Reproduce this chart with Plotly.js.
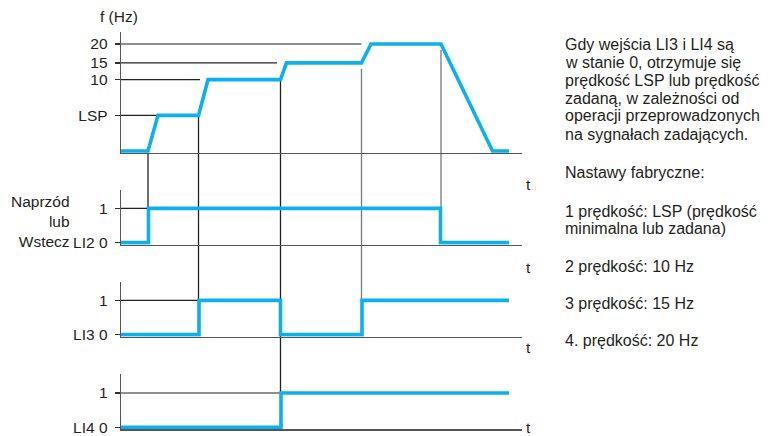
<!DOCTYPE html>
<html>
<head>
<meta charset="utf-8">
<script src="https://cdn.plot.ly/plotly-3.0.1.min.js"></script>
<style>
  html, body { margin: 0; padding: 0; background: #fff; }
  #chart { width: 780px; height: 436px; }
</style>
</head>
<body>
<div id="chart"></div>
<script>
// ---------------- DATA ----------------
// time in arbitrary units, frequency as named levels
const freqTimes  = [0, 2.7, 3.7, 7.75, 8.7, 15.95, 16.55, 24.05, 25.0, 32.0, 37.15, 38.8];
const freqLevels = ['0', '0', 'LSP', 'LSP', '10', '10', '15', '15', '20', '20', '0', '0'];
const freqTickLabels = ['20', '15', '10', 'LSP'];

const li2Times  = [0, 2.75, 2.75, 31.95, 31.95, 38.8];
const li2Values = [0, 0, 1, 1, 0, 0];

const li3Times  = [0, 7.8, 7.8, 15.95, 15.95, 24.1, 24.1, 38.8];
const li3Values = [0, 0, 1, 1, 0, 0, 1, 1];

const li4Times  = [0, 16.0, 16.0, 38.8];
const li4Values = [0, 0, 1, 1];

const freqAxisTitle = 'f (Hz)';
const timeLabel = 't';
const li2Label = ['Naprzód', 'lub', 'Wstecz'];
const li2Ticks = ['LI2 0', '1'];
const li3Ticks = ['LI3 0', '1'];
const li4Ticks = ['LI4 0', '1'];

const noteBlock1 = [
  'Gdy wejścia LI3 i LI4 są',
  'w stanie 0, otrzymuje się',
  'prędkość LSP lub prędkość',
  'zadaną, w zależności od',
  'operacji przeprowadzonych',
  'na sygnałach zadających.'
];
const noteBlock2 = [
  ['Nastawy fabryczne:'],
  ['1 prędkość: LSP (prędkość', 'minimalna lub zadana)'],
  ['2 prędkość: 10 Hz'],
  ['3 prędkość: 15 Hz'],
  ['4. prędkość: 20 Hz']
];

// ---------------- LAYOUT / STYLE ----------------
const W = 780, H = 436;
const FONT = 'Liberation Sans, Arial, Helvetica, sans-serif';
const FS = 15.5;
const NOTE_FS = 16;
const TXT = '#231f20';
const BLUE = '#0cb0ea';
const AX = '#555555';

// schematic position of each frequency level on the f axis
const freqPos = { '0': 0, 'LSP': 1, '10': 2, '15': 2.47, '20': 3 };

const px2py = p => 1 - p / H;   // pixel row -> paper y
const px2px = p => p / W;       // pixel col -> paper x

const xDomain = [px2px(121), px2px(522)];
const xRange = [0, 40.1];

const yAx = {
  y:  { domain: [px2py(153),   px2py(31.7)],  range: [-0.056, 3.345] },
  y2: { domain: [px2py(244.7), px2py(189.6)], range: [-0.06, 1.55] },
  y3: { domain: [px2py(336.7), px2py(281.6)], range: [-0.06, 1.55] },
  y4: { domain: [px2py(429.3), px2py(374.2)], range: [-0.06, 1.55] }
};
function toPaper(ax, v) {
  const a = yAx[ax];
  return a.domain[0] + (v - a.range[0]) / (a.range[1] - a.range[0]) * (a.domain[1] - a.domain[0]);
}

const lineStyle = { color: BLUE, width: 3.6 };
const traces = [
  { x: freqTimes, y: freqLevels.map(l => freqPos[l]), xaxis: 'x',  yaxis: 'y',  mode: 'lines', line: lineStyle, hoverinfo: 'skip' },
  { x: li2Times,  y: li2Values, xaxis: 'x2', yaxis: 'y2', mode: 'lines', line: lineStyle, hoverinfo: 'skip' },
  { x: li3Times,  y: li3Values, xaxis: 'x3', yaxis: 'y3', mode: 'lines', line: lineStyle, hoverinfo: 'skip' },
  { x: li4Times,  y: li4Values, xaxis: 'x4', yaxis: 'y4', mode: 'lines', line: lineStyle, hoverinfo: 'skip' }
];

function xAxis(anchor) {
  return {
    domain: xDomain, range: xRange, anchor: anchor,
    showline: true, linecolor: AX, linewidth: 1.3,
    showgrid: false, zeroline: false, showticklabels: false, ticks: '', fixedrange: true
  };
}
function yAxis(key, anchor, tickvals, ticktext) {
  return {
    domain: yAx[key].domain, range: yAx[key].range, anchor: anchor,
    showline: true, linecolor: AX, linewidth: 1.3,
    showgrid: false, zeroline: false,
    ticks: 'outside', ticklen: 5, tickwidth: 1.2, tickcolor: '#333',
    tickvals: tickvals, ticktext: ticktext,
    tickfont: { family: FONT, size: FS, color: TXT },
    ticklabelstandoff: 4,
    fixedrange: true
  };
}

// horizontal reference lines (level -> end time on the time axis)
const shapes = [];
function hLine(xref, yref, yv, x1) {
  shapes.push({ type: 'line', xref: xref, yref: yref, x0: 0, x1: x1, y0: yv, y1: yv,
                line: { color: '#222', width: 1.2 }, layer: 'below' });
}
hLine('x', 'y', freqPos['20'], freqTimes[7]);
hLine('x', 'y', freqPos['15'], freqTimes[5] - 0.35);
hLine('x', 'y', freqPos['10'], freqTimes[3] + 0.15);
hLine('x', 'y', freqPos['LSP'], freqTimes[2]);
hLine('x2', 'y2', 1, li2Times[1]);
hLine('x3', 'y3', 1, li3Times[1]);
hLine('x4', 'y4', 1, li4Times[1]);

// vertical event connectors
function vLine(t, y0, y1, color) {
  shapes.push({ type: 'line', xref: 'x', yref: 'paper', x0: t, x1: t, y0: y0, y1: y1,
                line: { color: color, width: 1.3 }, layer: 'below' });
}
const gap = 6 / H;
vLine(freqTimes[1], toPaper('y', yAx.y.range[0]), toPaper('y2', 1), '#222');
vLine(freqTimes[3], toPaper('y', freqPos['LSP']), toPaper('y3', 1), '#222');
vLine(freqTimes[5], toPaper('y', freqPos['10']), toPaper('y4', 1), '#222');
vLine(freqTimes[7], toPaper('y', freqPos['15']) - gap, toPaper('y3', 1), '#777');
vLine(freqTimes[9], toPaper('y', freqPos['20']) - gap, toPaper('y2', 1), '#777');

// annotations
const annotations = [];
function txt(text, xpx, ypx, xanchor, align, size) {
  annotations.push({ text: text, xref: 'paper', yref: 'paper', x: px2px(xpx), y: px2py(ypx),
    xanchor: xanchor || 'left', yanchor: 'middle', align: align || 'left', showarrow: false,
    font: { family: FONT, size: size || FS, color: TXT } });
}
txt(freqAxisTitle, 119, 16, 'center');
txt(li2Label.join('<br>'), 72, 221, 'right', 'right');
[184, 267, 347, 427].forEach(y => txt(timeLabel, 524, y, 'left'));

const NX = 563;
const LH = 18;
noteBlock1.forEach((l, i) => txt(l, NX, 44 + i * LH, 'left', 'left', NOTE_FS));
const blockY = [172, 211, 266, 303, 340];
noteBlock2.forEach((para, i) => para.forEach((l, j) => txt(l, NX, blockY[i] + j * 17, 'left', 'left', NOTE_FS)));

const layout = {
  width: W, height: H,
  margin: { l: 0, r: 0, t: 0, b: 0, pad: 0 },
  paper_bgcolor: '#fff', plot_bgcolor: 'rgba(0,0,0,0)',
  showlegend: false,
  xaxis:  xAxis('y'),
  xaxis2: xAxis('y2'),
  xaxis3: xAxis('y3'),
  xaxis4: xAxis('y4'),
  yaxis:  yAxis('y', 'x', freqTickLabels.map(l => freqPos[l]), freqTickLabels),
  yaxis2: yAxis('y2', 'x2', [0, 1], li2Ticks),
  yaxis3: yAxis('y3', 'x3', [0, 1], li3Ticks),
  yaxis4: yAxis('y4', 'x4', [0, 1], li4Ticks),
  shapes: shapes,
  annotations: annotations
};

Plotly.newPlot('chart', traces, layout, { displayModeBar: false, staticPlot: true });
</script>
</body>
</html>
